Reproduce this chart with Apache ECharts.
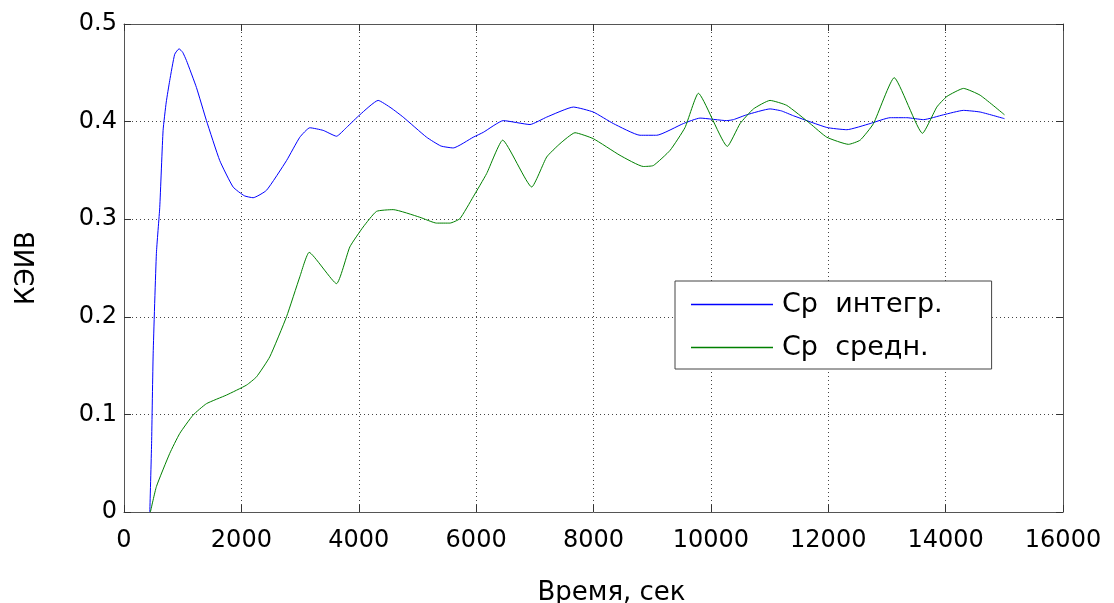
<!DOCTYPE html>
<html>
<head>
<meta charset="utf-8">
<script src="https://cdn.jsdelivr.net/npm/echarts@6/dist/echarts.min.js"></script>
<style>
  html, body { margin: 0; padding: 0; background: #fff; }
  #chart { width: 1114px; height: 603px; }
</style>
</head>
<body>
<div id="chart"></div>
<script>
// данные
var timeInteg = [440, 470, 497, 552, 609, 666, 720, 779, 864, 938, 1000, 1064, 1234, 1405, 1632, 1859, 2050, 2200, 2428, 2769, 2996, 3166, 3394, 3621, 3792, 4019, 4331, 4550, 4757, 5156, 5400, 5610, 5951, 6122, 6463, 6918, 7202, 7657, 7997, 8338, 8793, 9077, 9531, 9815, 10270, 10384, 10611, 11008, 11200, 11406, 11975, 12317, 12714, 13055, 13339, 13623, 13964, 14305, 14589, 15003];
var kInteg = [0, 0.07, 0.162, 0.265, 0.312, 0.391, 0.42, 0.442, 0.469, 0.4746, 0.471, 0.4626, 0.435, 0.401, 0.360, 0.333, 0.324, 0.322, 0.3296, 0.360, 0.384, 0.3937, 0.391, 0.385, 0.394, 0.407, 0.4217, 0.414, 0.4046, 0.384, 0.375, 0.373, 0.384, 0.389, 0.401, 0.397, 0.4046, 0.4149, 0.4098, 0.398, 0.386, 0.386, 0.398, 0.4036, 0.401, 0.402, 0.407, 0.413, 0.411, 0.406, 0.394, 0.3917, 0.398, 0.404, 0.404, 0.402, 0.407, 0.4115, 0.4098, 0.403];

var timeMean = [450, 552, 779, 950, 1177, 1405, 1746, 2087, 2258, 2484, 2769, 2996, 3155, 3621, 3848, 4075, 4302, 4586, 5041, 5326, 5553, 5724, 5951, 6179, 6452, 6947, 7202, 7429, 7685, 7997, 8452, 8850, 9020, 9304, 9560, 9787, 10281, 10498, 10725, 11008, 11293, 11691, 11975, 12345, 12544, 12771, 13124, 13606, 13851, 14022, 14305, 14589, 15003];
var kMean = [0, 0.026, 0.060, 0.0805, 0.0993, 0.111, 0.1198, 0.130, 0.1385, 0.159, 0.200, 0.241, 0.266, 0.234, 0.2716, 0.292, 0.308, 0.3098, 0.302, 0.296, 0.296, 0.3006, 0.323, 0.3467, 0.381, 0.333, 0.3637, 0.3774, 0.3886, 0.3825, 0.3654, 0.354, 0.355, 0.3705, 0.394, 0.429, 0.3746, 0.398, 0.413, 0.4217, 0.4166, 0.398, 0.384, 0.3767, 0.381, 0.398, 0.445, 0.388, 0.415, 0.4258, 0.434, 0.427, 0.407];

var seriesNames = ['Ср  интегр.', 'Ср  средн.'];

function pairs(xs, ys) {
    return xs.map(function (x, i) { return [x, ys[i]]; });
}

var font = 'DejaVu Sans';
var boxLine = { show: true, onZero: false, lineStyle: { color: '#555', width: 1 } };
var gridDots = { show: true, lineStyle: { color: '#444', type: [1, 3], width: 1 } };
var innerTick = { show: true, inside: true, length: 7, lineStyle: { color: '#333' } };

var chart = echarts.init(document.getElementById('chart'));
var option = {
    animation: false,
    backgroundColor: '#fff',
    grid: { left: 124, right: 51, top: 24, bottom: 91, containLabel: false, outerBoundsMode: 'none' },
    legend: {
        left: 675,
        top: 281,
        orient: 'vertical',
        data: [
            { name: seriesNames[0], icon: 'rect', itemStyle: { color: '#0000ff' } },
            { name: seriesNames[1], icon: 'rect', itemStyle: { color: '#008000' } }
        ],
        padding: [8, 49, 6, 16],
        itemWidth: 82,
        itemHeight: 1.5,
        itemGap: 12,
        borderColor: '#444',
        borderWidth: 1,
        backgroundColor: '#fff',
        textStyle: { fontFamily: font, fontSize: 27, color: '#000', lineHeight: 31, padding: [0, 0, 0, 4] }
    },
    xAxis: [{
        type: 'value',
        min: 0, max: 16000, interval: 2000,
        name: 'Время, сек',
        nameLocation: 'middle',
        nameGap: 68,
        nameTextStyle: { fontFamily: font, fontSize: 26, color: '#000', padding: [0, 0, 0, 36] },
        axisLine: boxLine,
        axisTick: innerTick,
        axisLabel: {
            fontFamily: font, fontSize: 24, color: '#000', margin: 17,
            formatter: function (v) { return String(v); }
        },
        splitLine: gridDots
    }, {
        type: 'value', position: 'top',
        min: 0, max: 16000, interval: 2000,
        axisLine: boxLine,
        axisTick: innerTick,
        axisLabel: { show: false },
        splitLine: { show: false }
    }],
    yAxis: [{
        type: 'value',
        min: 0, max: 0.5, interval: 0.1,
        name: 'КЭИВ',
        nameLocation: 'middle',
        nameGap: 84,
        nameRotate: 90,
        nameTextStyle: { fontFamily: font, fontSize: 26, color: '#000' },
        axisLine: boxLine,
        axisTick: innerTick,
        axisLabel: { fontFamily: font, fontSize: 24, color: '#000', margin: 7 },
        splitLine: gridDots
    }, {
        type: 'value', position: 'right',
        min: 0, max: 0.5, interval: 0.1,
        axisLine: boxLine,
        axisTick: innerTick,
        axisLabel: { show: false },
        splitLine: { show: false }
    }],
    series: [{
        name: seriesNames[0],
        type: 'line',
        data: pairs(timeInteg, kInteg),
        smooth: 0.15,
        showSymbol: false,
        symbol: 'none',
        lineStyle: { color: '#0000ff', width: 1 },
        itemStyle: { color: '#0000ff' }
    }, {
        name: seriesNames[1],
        type: 'line',
        data: pairs(timeMean, kMean),
        smooth: 0.15,
        showSymbol: false,
        symbol: 'none',
        lineStyle: { color: '#008000', width: 1 },
        itemStyle: { color: '#008000' }
    }]
};
chart.setOption(option);
</script>
</body>
</html>
